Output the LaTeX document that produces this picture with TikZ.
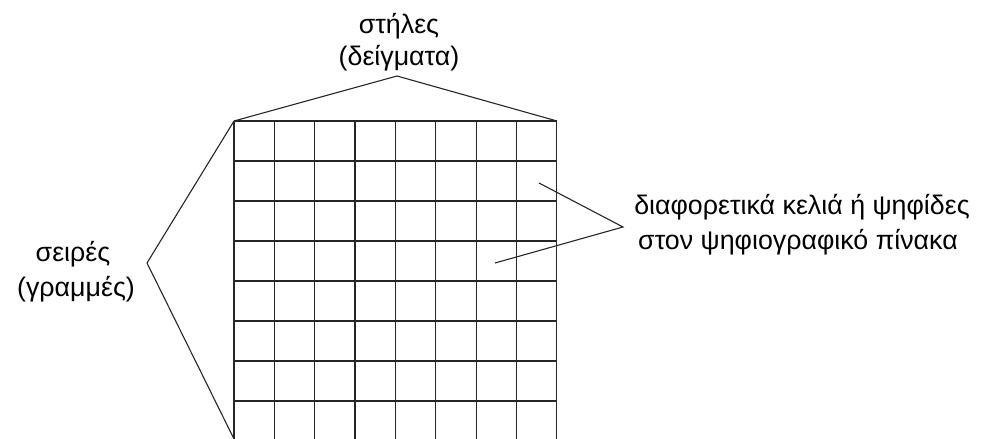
\documentclass[tikz,border=0pt]{standalone}
\usepackage{fontspec}
\setmainfont{Liberation Sans}
\begin{document}
\begin{tikzpicture}[x=1pt,y=-1pt,
  gridline/.style={line width=1.2pt, black!85},
  leader/.style={line width=1.1pt, black!85},
  lbl/.style={font=\fontsize{26.8}{32}\selectfont, inner sep=0pt, anchor=base}]
\useasboundingbox (0,0) rectangle (1002,439);

% raster grid: 8 columns, open at the bottom
\foreach \i in {0,...,8}
  \draw[gridline] ({234+40.35*\i},121) -- ({234+40.35*\i},439);
\foreach \j in {0,...,7}
  \draw[gridline] (234,{121+40*\j}) -- (557,{121+40*\j});

% grid corners and cells referred to by the leaders
\coordinate (tl) at (234,121);
\coordinate (tr) at (557,121);
\coordinate (bl) at (234,439);
\coordinate (cellA) at (539,183);
\coordinate (cellB) at (495,263);

% labels
\node[lbl] (cols1) at (399,33) {στήλες};
\node[lbl] (cols2) at (399,65) {(δείγματα)};
\node[lbl] (rows1) at (73,261) {σειρές};
\node[lbl] (rows2) at (76,296) {(γραμμές)};
\node[lbl] (cells1) at (802,214) {διαφορετικά κελιά ή ψηφίδες};
\node[lbl] (cells2) at (798,249) {στον ψηφιογραφικό πίνακα};

% leader apexes
\coordinate (topapex) at (397,76);
\coordinate (leftapex) at (147,263);
\coordinate (rightapex) at (623,227);

\draw[leader] (tl) -- (topapex) -- (tr);
\draw[leader] (tl) -- (leftapex) -- (bl);
\draw[leader] (cellA) -- (rightapex) -- (cellB);
\end{tikzpicture}
\end{document}
